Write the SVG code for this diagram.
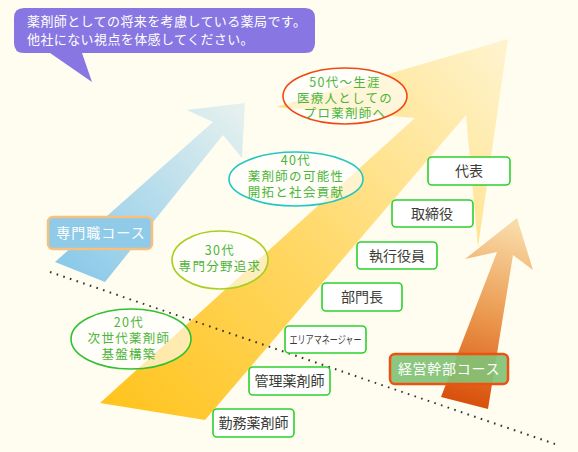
<svg xmlns="http://www.w3.org/2000/svg" width="578" height="452" viewBox="0 0 578 452">
<defs>
<linearGradient id="gY" gradientUnits="userSpaceOnUse" x1="110" y1="420" x2="500" y2="50">
<stop offset="0" stop-color="#ffc31c"/><stop offset="0.45" stop-color="#ffd660"/><stop offset="1" stop-color="#fff3cc"/>
</linearGradient>
<linearGradient id="gB" gradientUnits="userSpaceOnUse" x1="70" y1="275" x2="240" y2="105">
<stop offset="0" stop-color="#8ac9e9"/><stop offset="1" stop-color="#e6f1ee"/>
</linearGradient>
<linearGradient id="gO" gradientUnits="userSpaceOnUse" x1="465" y1="405" x2="515" y2="225">
<stop offset="0" stop-color="#d84e0a"/><stop offset="0.5" stop-color="#eb9a50"/><stop offset="1" stop-color="#f9dba8"/>
</linearGradient>
<style>
text{font-family:"Noto Sans CJK JP","Noto Sans",sans-serif;}
.el{fill:#ffffff;fill-opacity:0.6;stroke-width:1.6;}
.et{fill:#4cb53a;font-size:12.5px;letter-spacing:1.3px;text-anchor:middle;}
.bx{fill:#ffffff;stroke:#2ed02e;stroke-width:1.6;}
.bt{fill:#3c3c36;font-size:14px;text-anchor:middle;}
.lt{fill:#ffffff;font-size:14px;text-anchor:middle;letter-spacing:1px;}
</style>
</defs>
<rect width="578" height="452" fill="#fffdf0"/>
<g id="connectors">
<polygon id="arrow-blue" points="55,262 213,122 187,110 245,103 242,158 223,135 105,282" fill="url(#gB)"/>
<polygon id="arrow-yellow" points="100,403 415,118 276,107 508,39 478,247 466,115 205,420" fill="url(#gY)"/>
<polygon id="arrow-orange" points="441,397 497,252 465,259 517,218 533,270 513,255 488,409" fill="url(#gO)"/>
<line id="divider" x1="50" y1="272" x2="555" y2="444" stroke="#333" stroke-width="2" stroke-dasharray="1.6 5.4"/>
</g>
<g id="n50">
<ellipse class="el" cx="345" cy="96" rx="62" ry="28" stroke="#f04a10"/>
<text class="et" x="345" y="87">50代～生涯</text>
<text class="et" x="345" y="102.5">医療人としての</text>
<text class="et" x="345" y="118">プロ薬剤師へ</text>
</g>
<g id="n40">
<ellipse class="el" cx="296" cy="179" rx="67" ry="27" stroke="#22c8c0"/>
<text class="et" x="296" y="165">40代</text>
<text class="et" x="296" y="181">薬剤師の可能性</text>
<text class="et" x="296" y="197">開拓と社会貢献</text>
</g>
<g id="n30">
<ellipse class="el" cx="220" cy="260" rx="48" ry="29" stroke="#a8d020"/>
<text class="et" x="220" y="255">30代</text>
<text class="et" x="220" y="271">専門分野追求</text>
</g>
<g id="n20">
<ellipse class="el" cx="131" cy="339" rx="60" ry="30" stroke="#30c030"/>
<text class="et" x="129" y="327">20代</text>
<text class="et" x="129" y="343">次世代薬剤師</text>
<text class="et" x="129" y="358.5">基盤構築</text>
</g>
<g id="b-daihyo"><rect class="bx" x="428" y="157" width="82" height="28" rx="4"/><text class="bt" x="469" y="176">代表</text></g>
<g id="b-torishimariyaku"><rect class="bx" x="392" y="200" width="81" height="27" rx="4"/><text class="bt" x="432" y="219">取締役</text></g>
<g id="b-shikkou"><rect class="bx" x="357" y="242" width="80" height="27" rx="4"/><text class="bt" x="397" y="261">執行役員</text></g>
<g id="b-buchou"><rect class="bx" x="322" y="283" width="80" height="28" rx="4"/><text class="bt" x="362" y="302">部門長</text></g>
<g id="b-area"><rect class="bx" x="285" y="326" width="81" height="27" rx="4"/><text class="bt" x="325.5" y="344" style="font-size:11px" textLength="72" lengthAdjust="spacingAndGlyphs">エリアマネージャー</text></g>
<g id="b-kanri"><rect class="bx" x="249" y="367" width="81" height="28" rx="4"/><text class="bt" x="289.5" y="386">管理薬剤師</text></g>
<g id="b-kinmu"><rect class="bx" x="213" y="409" width="81" height="28" rx="4"/><text class="bt" x="253.5" y="428">勤務薬剤師</text></g>
<g id="l-senmon"><rect x="48" y="217" width="104" height="32" rx="5" fill="#8fcbe8" stroke="#f5c080" stroke-width="2.5"/><text class="lt" x="101" y="238">専門職コース</text></g>
<g id="l-keiei"><rect x="390" y="354" width="118" height="30" rx="5" fill="#82c276" fill-opacity="0.92" stroke="#f05010" stroke-width="2.5"/><text class="lt" x="449" y="374" style="letter-spacing:0.7px">経営幹部コース</text></g>
<g id="bubble">
<path d="M24,8 H305 Q315,8 315,18 V43 Q315,53 305,53 H82 L92,82 L50,53 H24 Q14,53 14,43 V18 Q14,8 24,8 Z" fill="#8877e2"/>
<text x="27" y="26" fill="#ffffff" font-size="13" letter-spacing="0.4">薬剤師としての将来を考慮している薬局です。</text>
<text x="27" y="44" fill="#ffffff" font-size="13" letter-spacing="0.4">他社にない視点を体感してください。</text>
</g>
</svg>
